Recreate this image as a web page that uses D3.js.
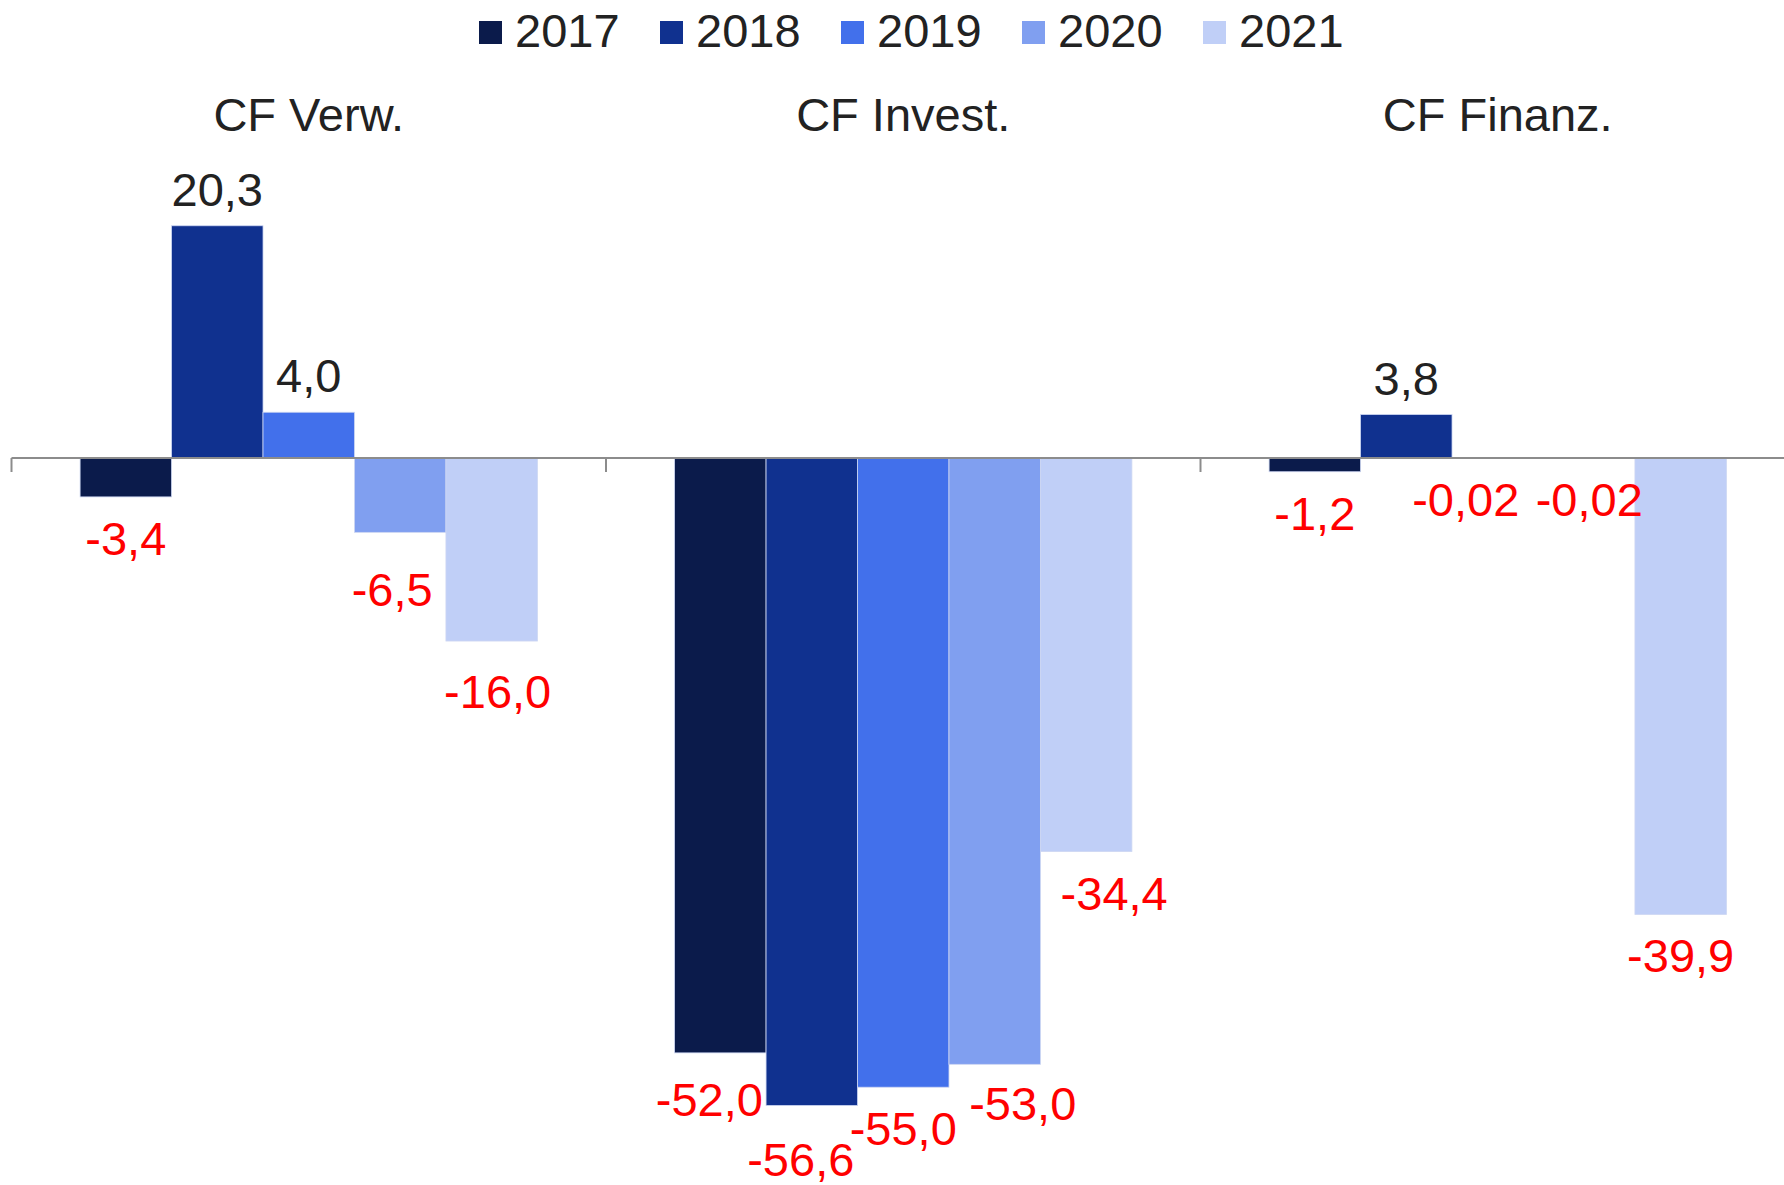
<!DOCTYPE html>
<html>
<head>
<meta charset="utf-8">
<script src="https://cdn.jsdelivr.net/npm/d3@7"></script>
<style>
  html, body { margin: 0; padding: 0; background: #ffffff; }
  svg { display: block; }
  text { font-family: "Liberation Sans", Arial, sans-serif; }
</style>
</head>
<body>
<svg id="chart" width="1784" height="1185"></svg>
<script>
// ---- data ----
const categories = ["CF Verw.", "CF Invest.", "CF Finanz."];
const years = ["2017", "2018", "2019", "2020", "2021"];
const values2017 = [-3.4, -52.0, -1.2];
const values2018 = [20.3, -56.6, 3.8];
const values2019 = [4.0, -55.0, -0.02];
const values2020 = [-6.5, -53.0, -0.02];
const values2021 = [-16.0, -34.4, -39.9];
const labels2017 = ["-3,4", "-52,0", "-1,2"];
const labels2018 = ["20,3", "-56,6", "3,8"];
const labels2019 = ["4,0", "-55,0", "-0,02"];
const labels2020 = ["-6,5", "-53,0", "-0,02"];
const labels2021 = ["-16,0", "-34,4", "-39,9"];

// ---- styles ----
const colors = ["#0b1b4b", "#10318f", "#4270eb", "#809ff0", "#c0cff7"];
// Label collision nudges (px), as placed by the original chart
const labelNudge = {
  "CF Verw.|2020": [-8, 16],
  "CF Verw.|2021": [6, 9],
  "CF Invest.|2017": [-11, 5],
  "CF Invest.|2018": [-11, 12],
  "CF Invest.|2020": [28, -2],
  "CF Invest.|2021": [28, 0],
  "CF Finanz.|2019": [-32, 0]
};

const seriesValues = [values2017, values2018, values2019, values2020, values2021];
const seriesLabels = [labels2017, labels2018, labels2019, labels2020, labels2021];
const rows = [];
years.forEach((yr, si) => {
  categories.forEach((cat, ci) => {
    rows.push({ cat, year: yr, si, value: seriesValues[si][ci], label: seriesLabels[si][ci] });
  });
});

const W = 1784, H = 1185;
const svg = d3.select("#chart");
const fontSize = 47;

const x0 = d3.scaleBand().domain(categories).range([11.5, 11.5 + 3 * 594.5]).padding(0);
const x1 = d3.scaleBand().domain(years).range([0, x0.bandwidth()]).paddingInner(0).paddingOuter(0.75);
const y = d3.scaleLinear().domain([-60, 25]).range([458 + 60 * 11.44, 458 - 25 * 11.44]);

// bars
svg.append("g").selectAll("rect").data(rows).join("rect")
  .attr("x", d => x0(d.cat) + x1(d.year))
  .attr("width", x1.bandwidth())
  .attr("y", d => Math.min(y(d.value), y(0)))
  .attr("height", d => Math.abs(y(d.value) - y(0)))
  .attr("fill", d => colors[d.si])
  .attr("stroke", "#cdd6f2")
  .attr("stroke-width", 0.8);

// axis line + boundary ticks
const axisG = svg.append("g");
axisG.append("line")
  .attr("x1", x0.range()[0]).attr("x2", W)
  .attr("y1", y(0)).attr("y2", y(0))
  .attr("stroke", "#8c8c8c").attr("stroke-width", 2);
axisG.selectAll("line.tick").data(categories).join("line")
  .attr("class", "tick")
  .attr("x1", d => x0(d)).attr("x2", d => x0(d))
  .attr("y1", y(0)).attr("y2", y(0) + 14)
  .attr("stroke", "#8c8c8c").attr("stroke-width", 2);

// category titles
svg.append("g").selectAll("text").data(categories).join("text")
  .attr("x", d => x0(d) + x0.bandwidth() / 2)
  .attr("y", 131)
  .attr("text-anchor", "middle")
  .attr("font-size", fontSize)
  .attr("fill", "#222222")
  .text(d => d);

// data labels
svg.append("g").selectAll("text").data(rows).join("text")
  .attr("x", d => x0(d.cat) + x1(d.year) + x1.bandwidth() / 2 + ((labelNudge[d.cat + "|" + d.year] || [0, 0])[0]))
  .attr("y", d => (d.value >= 0 ? y(d.value) - 20 : y(d.value) + 58) + ((labelNudge[d.cat + "|" + d.year] || [0, 0])[1]))
  .attr("text-anchor", "middle")
  .attr("font-size", fontSize)
  .attr("fill", d => d.value >= 0 ? "#222222" : "#ff0000")
  .text(d => d.label);

// legend
const legendStep = 181;
const lg = svg.append("g").attr("transform", "translate(479,0)");
const items = lg.selectAll("g").data(years).join("g")
  .attr("transform", (d, i) => `translate(${i * legendStep},0)`);
items.append("rect")
  .attr("x", 0).attr("y", 21).attr("width", 23).attr("height", 23)
  .attr("fill", (d, i) => colors[i]);
items.append("text")
  .attr("x", 36).attr("y", 47)
  .attr("font-size", fontSize)
  .attr("fill", "#222222")
  .text(d => d);
</script>
</body>
</html>
